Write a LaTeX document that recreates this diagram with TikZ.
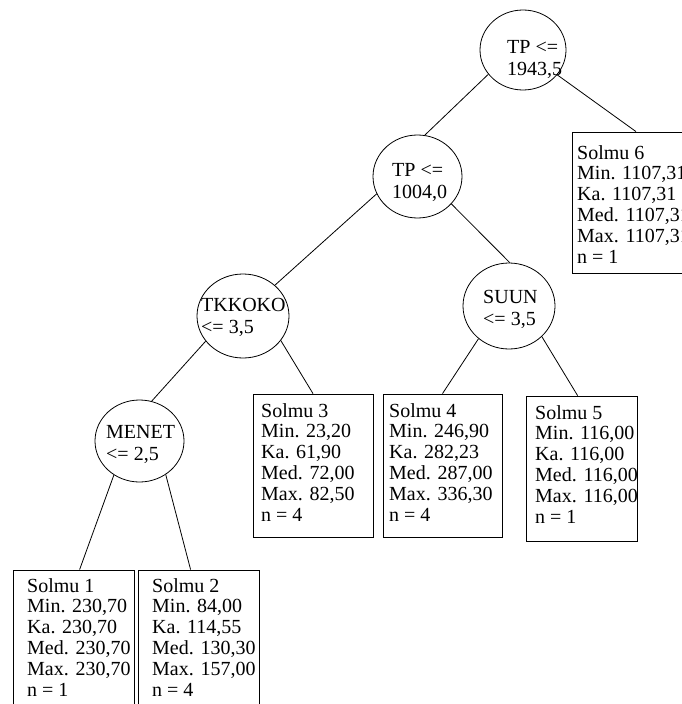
\documentclass[tikz,border=0pt]{standalone}
\usepackage{fontspec}
\setmainfont{Liberation Serif}
\usetikzlibrary{shapes.geometric,calc}
\begin{document}
\begin{tikzpicture}[x=1bp,y=-1bp,
  split/.style={draw,ellipse,inner sep=0pt,line width=0.8bp},
  leaf/.style={draw,rectangle,inner sep=0pt,line width=0.8bp},
  ctxt/.style={anchor=north west,inner sep=0pt,align=left,font=\fontsize{20bp}{22bp}\selectfont},
  btxt/.style={anchor=north west,inner sep=0pt,align=left,font=\fontsize{20bp}{20.8bp}\selectfont},
  edge/.style={line width=0.8bp}]
\clip (0,0) rectangle (682,704);
\fill[white] (0,0) rectangle (682,704);

% split nodes
\node[split,minimum width=86bp,minimum height=80bp] (root) at (523,50) {};
\node[split,minimum width=89bp,minimum height=83bp] (tp) at (417.5,176.5) {};
\node[split,minimum width=92bp,minimum height=84bp] (tkk) at (243,316) {};
\node[split,minimum width=92bp,minimum height=86bp] (suun) at (509,306) {};
\node[split,minimum width=89bp,minimum height=82bp] (menet) at (139.5,441) {};

\node[ctxt] (roott) at (507,40) {TP <=\\1943,5};
\node[ctxt] (tpt) at (392,163) {TP <=\\1004,0};
\node[ctxt] (tkkt) at (201,298) {TKKOKO\\<= 3,5};
\node[ctxt] (suunt) at (483,290) {SUUN\\<= 3,5};
\node[ctxt] (menett) at (106,425) {MENET\\<= 2,5};

% leaf boxes
\node[leaf,minimum width=121bp,minimum height=145bp] (s1) at (73.5,642.5) {};
\node[leaf,minimum width=121bp,minimum height=145bp] (s2) at (198.5,642.5) {};
\node[leaf,minimum width=120bp,minimum height=143bp] (s3) at (313,465.5) {};
\node[leaf,minimum width=119bp,minimum height=143bp] (s4) at (442.5,465.5) {};
\node[leaf,minimum width=111bp,minimum height=145bp] (s5) at (581.5,468.5) {};
\node[leaf,minimum width=128bp,minimum height=141bp] (s6) at (636,202.5) {};

\node[btxt] (s1t) at (27,578) {Solmu 1\\Min. 230,70\\Ka. 230,70\\Med. 230,70\\Max. 230,70\\n = 1};
\node[btxt] (s2t) at (152,578) {Solmu 2\\Min. 84,00\\Ka. 114,55\\Med. 130,30\\Max. 157,00\\n = 4};
\node[btxt] (s3t) at (261,403) {Solmu 3\\Min. 23,20\\Ka. 61,90\\Med. 72,00\\Max. 82,50\\n = 4};
\node[btxt] (s4t) at (389,403) {Solmu 4\\Min. 246,90\\Ka. 282,23\\Med. 287,00\\Max. 336,30\\n = 4};
\node[btxt] (s5t) at (535,405) {Solmu 5\\Min. 116,00\\Ka. 116,00\\Med. 116,00\\Max. 116,00\\n = 1};
\node[btxt] (s6t) at (577,145) {Solmu 6\\Min. 1107,31\\Ka. 1107,31\\Med. 1107,31\\Max. 1107,31\\n = 1};

% connectors
\draw[edge] (root.215) -- (tp.80);
\draw[edge] (root.324) -- (s6.north);
\draw[edge] (tp.203) -- (tkk.44);
\draw[edge] (tp.321) -- (suun.89);
\draw[edge] (tkk.214) -- (menet.73);
\draw[edge] (tkk.327) -- (s3.north);
\draw[edge] (suun.227) -- (s4.north);
\draw[edge] (suun.317) -- ($(s5.north west)+(52,0)$);
\draw[edge] (menet.233) -- ($(s1.north west)+(67,0)$);
\draw[edge] (menet.308) -- ($(s2.north west)+(53,0)$);
\end{tikzpicture}
\end{document}
